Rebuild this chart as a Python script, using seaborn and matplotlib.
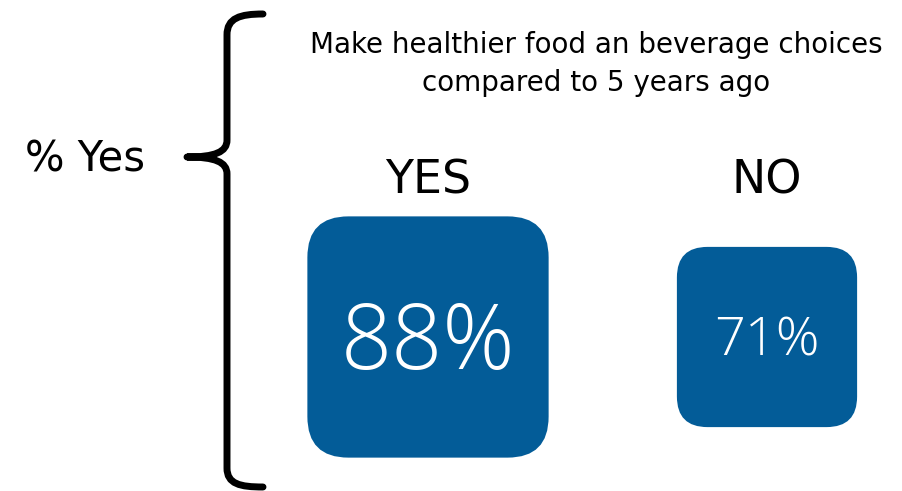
import numpy as np
import pandas as pd
import matplotlib
matplotlib.use("Agg")
import matplotlib.pyplot as plt
import seaborn as sns
from matplotlib.patches import FancyBboxPatch, PathPatch
from matplotlib.path import Path

# data
answers = ["YES", "NO"]
pct_yes = [88, 71]
title = "Make healthier food an beverage choices\ncompared to 5 years ago"
side_label = "% Yes"

BLUE = "#035C98"

sns.set_theme(style="white")
plt.rcParams["font.family"] = ["DejaVu Sans"]
plt.rcParams["text.color"] = "black"

fig = plt.figure(figsize=(9.02, 4.91), dpi=100)
ax = fig.add_axes([0, 0, 1, 1])
ax.set_xlim(0, 902)
ax.set_ylim(491, 0)
ax.axis("off")

df = pd.DataFrame({"answer": answers, "pct": pct_yes})
df["cx"] = [428, 767]
# side length of the rounded square grows with the value
df["side"] = (df["pct"] - 20.8) * 3.59
df["fs"] = 39 + (df["pct"] - 71) * 1.5
cy = 337

for _, r in df.iterrows():
    s = r["side"]
    rad = s * 0.17
    box = FancyBboxPatch((r["cx"] - s / 2 + rad, cy - s / 2 + rad), s - 2 * rad, s - 2 * rad,
                         boxstyle=f"round,pad={rad}", fc=BLUE, ec="none")
    ax.add_patch(box)
    ax.text(r["cx"], cy + 8 if r["pct"] > 80 else cy + 5, f"{r['pct']}%", ha="center", va="center",
            color="white", fontsize=r["fs"], family="Open Sans", weight="light")
    ax.text(r["cx"], 181, r["answer"], ha="center", va="center", fontsize=33)

ax.text(596, 64, title, ha="center", va="center", fontsize=20, linespacing=1.45)
ax.text(85, 159, side_label, ha="center", va="center", fontsize=30)

# curly brace
verts = [(263, 14), (240, 14), (227, 18), (227, 35),
         (227, 140),
         (227, 152), (215, 157), (187, 157),
         (215, 157), (227, 162), (227, 174),
         (227, 468),
         (227, 484), (240, 487), (263, 487)]
codes = [Path.MOVETO, Path.CURVE4, Path.CURVE4, Path.CURVE4,
         Path.LINETO,
         Path.CURVE4, Path.CURVE4, Path.CURVE4,
         Path.CURVE4, Path.CURVE4, Path.CURVE4,
         Path.LINETO,
         Path.CURVE4, Path.CURVE4, Path.CURVE4]
ax.add_patch(PathPatch(Path(verts, codes), fc="none", ec="black", lw=5,
                       capstyle="round", joinstyle="round"))

fig.savefig("out.png", dpi=100)
